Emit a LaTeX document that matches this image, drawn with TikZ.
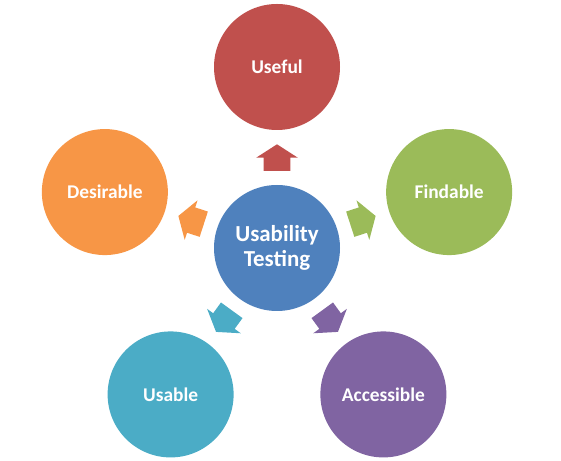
\documentclass[tikz,border=0pt]{standalone}
\usepackage{fontspec}
\setmainfont{Carlito}
\usetikzlibrary{positioning}

\definecolor{hub}{HTML}{4F81BD}
\definecolor{useful}{HTML}{C0504D}
\definecolor{findable}{HTML}{9BBB59}
\definecolor{accessible}{HTML}{8064A2}
\definecolor{usable}{HTML}{4BACC6}
\definecolor{desirable}{HTML}{F79646}

\tikzset{
	every bubble/.style={circle, minimum size=126bp, inner sep=0pt,
		text=white, align=center,
		font=\bfseries\fontsize{19.5}{22}\selectfont},
	bubble hub/.style={fill=hub, font=\bfseries\fontsize{23}{25}\selectfont}
}

\begin{document}
\begin{tikzpicture}[x=1bp, y=1bp]
		\useasboundingbox (-277,-213) rectangle (284,248);

		% Centre
		\node [every bubble/.try, bubble hub/.try] (hub) at (0,0) {
			Usability\\Testing
		};

		% Outer ring
		\foreach \name/\txt/\ang in {useful/Useful/90, findable/Findable/18,
			accessible/Accessible/-54, usable/Usable/-126, desirable/Desirable/162}
			\node [every bubble/.try, fill=\name] (\name) at (\ang:181) {\txt};

		% Block arrows, hub -> ring
		\foreach \name/\ang in {useful/90, findable/18, accessible/-54,
			usable/-126, desirable/162}
			\fill [\name, rotate=\ang] (77,-13.3) -- (90.3,-13.3) -- (90.3,-20.8)
				-- (103.7,0) -- (90.3,20.8) -- (90.3,13.3) -- (77,13.3) -- cycle;

\end{tikzpicture}
\end{document}
